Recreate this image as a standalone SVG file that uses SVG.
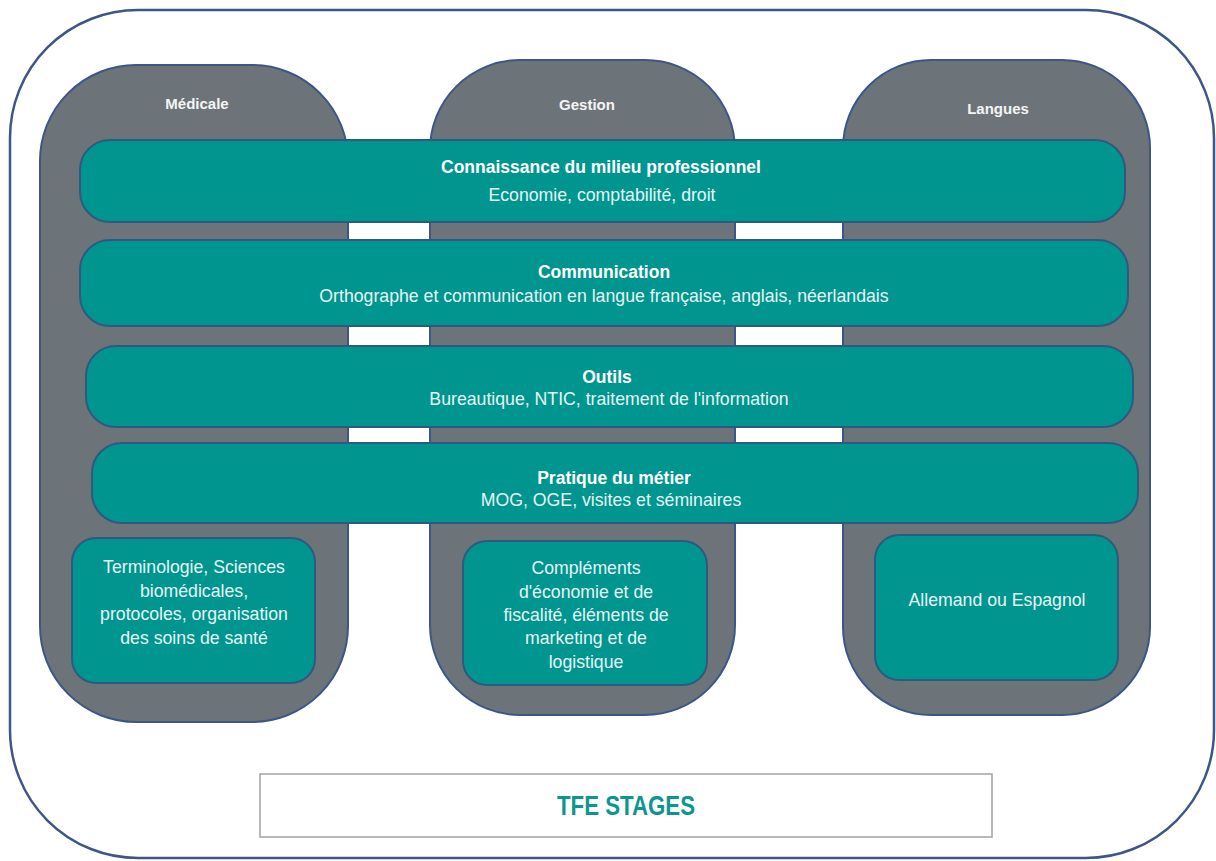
<svg xmlns="http://www.w3.org/2000/svg" width="1216" height="861" viewBox="0 0 1216 861">
<style>
.frame{fill:#ffffff;stroke:#3d5687;stroke-width:2.5}
.col{fill:#6c747a;stroke:#3c5688;stroke-width:2}
.bar{fill:#00958f;stroke:#2f5a80;stroke-width:2}
.box{fill:#00958f;stroke:#2f5a80;stroke-width:2}
.coltitle{font-family:"Liberation Sans",Arial,sans-serif;font-weight:bold;font-size:15px;fill:#f4f4f4;text-anchor:middle}
.title{font-family:"Liberation Sans",Arial,sans-serif;font-weight:bold;font-size:17.5px;fill:#ffffff;text-anchor:middle}
.sub{font-family:"Liberation Sans",Arial,sans-serif;font-size:17.7px;fill:#e6f6f4;text-anchor:middle}
.tfe{font-family:"Liberation Sans",Arial,sans-serif;font-weight:bold;font-size:27px;fill:#0b968f;text-anchor:middle}
</style>
<rect width="1216" height="861" fill="#ffffff"/>
<g id="frame">
<rect class="frame" x="10" y="10" width="1204" height="848" rx="128" ry="128"/>
</g>
<g id="col-medicale">
<rect class="col" x="40" y="65" width="308" height="657" rx="96" ry="96"/>
<text class="coltitle" x="197" y="109">Médicale</text>
</g>
<g id="col-gestion">
<rect class="col" x="430" y="60" width="305" height="655" rx="90" ry="90"/>
<text class="coltitle" x="587" y="110">Gestion</text>
</g>
<g id="col-langues">
<rect class="col" x="843" y="60" width="307" height="655" rx="88" ry="88"/>
<text class="coltitle" x="998" y="114">Langues</text>
</g>
<g id="bar-connaissance">
<rect class="bar" x="80" y="140" width="1045" height="82" rx="30" ry="30"/>
<text class="title" x="601" y="173">Connaissance du milieu professionnel</text>
<text class="sub" x="602" y="201">Economie, comptabilité, droit</text>
</g>
<g id="bar-communication">
<rect class="bar" x="80" y="240" width="1048" height="86" rx="30" ry="30"/>
<text class="title" x="604" y="278">Communication</text>
<text class="sub" x="604" y="302">Orthographe et communication en langue française, anglais, néerlandais</text>
</g>
<g id="bar-outils">
<rect class="bar" x="86" y="346" width="1047" height="81" rx="30" ry="30"/>
<text class="title" x="607" y="383">Outils</text>
<text class="sub" x="609" y="405">Bureautique, NTIC, traitement de l'information</text>
</g>
<g id="bar-pratique">
<rect class="bar" x="92" y="443" width="1046" height="80" rx="30" ry="30"/>
<text class="title" x="614" y="484">Pratique du métier</text>
<text class="sub" x="611" y="506">MOG, OGE, visites et séminaires</text>
</g>
<g id="box-medicale">
<rect class="box" x="72" y="538" width="243" height="145" rx="24" ry="24"/>
<text class="sub" x="194" y="573">Terminologie, Sciences</text>
<text class="sub" x="194" y="596.5">biomédicales,</text>
<text class="sub" x="194" y="620">protocoles, organisation</text>
<text class="sub" x="194" y="643.5">des soins de santé</text>
</g>
<g id="box-gestion">
<rect class="box" x="463" y="541" width="244" height="144" rx="24" ry="24"/>
<text class="sub" x="586" y="574">Compléments</text>
<text class="sub" x="586" y="598">d'économie et de</text>
<text class="sub" x="586" y="621">fiscalité, éléments de</text>
<text class="sub" x="586" y="644">marketing et de</text>
<text class="sub" x="586" y="668">logistique</text>
</g>
<g id="box-langues">
<rect class="box" x="875" y="535" width="243" height="145" rx="24" ry="24"/>
<text class="sub" x="997" y="606">Allemand ou Espagnol</text>
</g>
<g id="tfe-stages">
<rect x="260" y="774" width="732" height="63" fill="#ffffff" stroke="#a3a3a3" stroke-width="1.5"/>
<text class="tfe" x="626" y="815" textLength="138" lengthAdjust="spacingAndGlyphs">TFE STAGES</text>
</g>
<g id="connectors"/>
</svg>
